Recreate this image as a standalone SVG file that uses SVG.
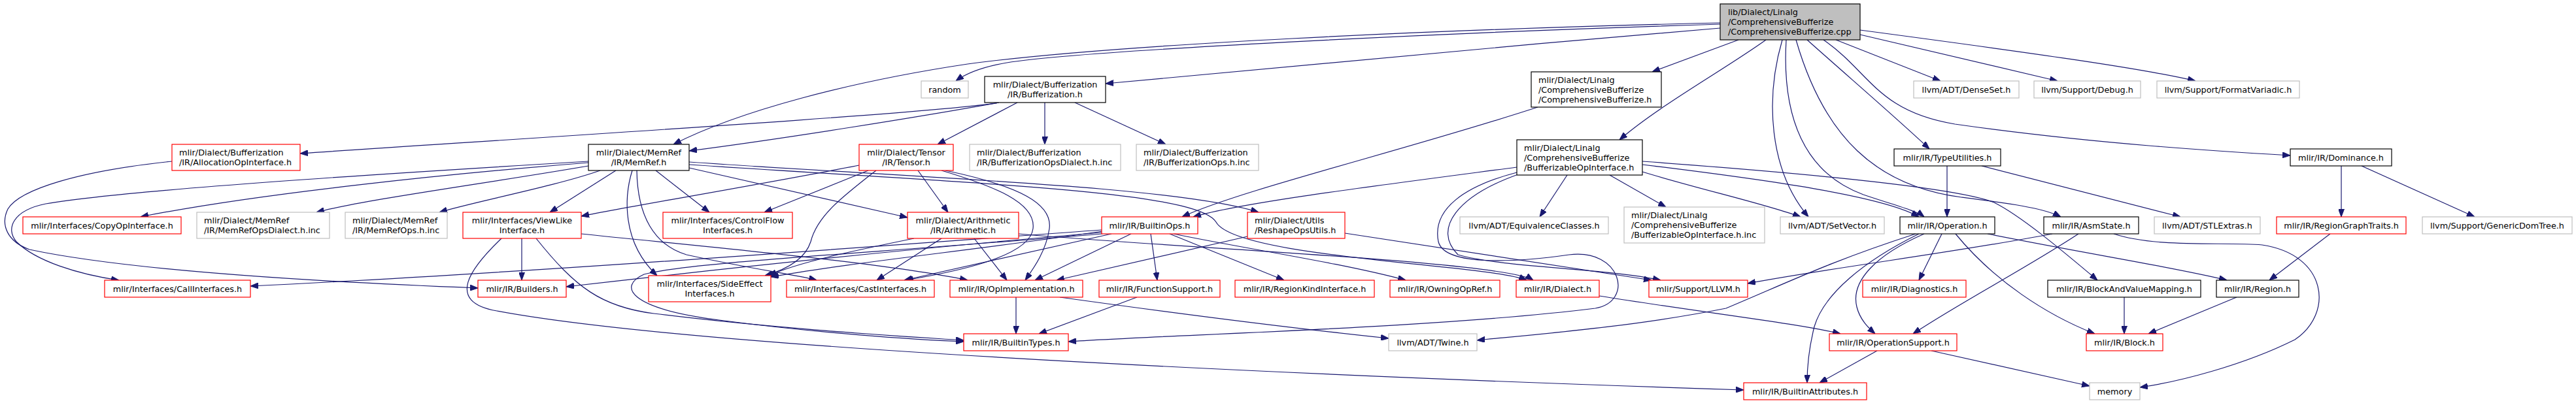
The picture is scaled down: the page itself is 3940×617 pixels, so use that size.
<svg xmlns="http://www.w3.org/2000/svg" width="3940" height="617" viewBox="0 0 3940 617">
<style>
.blk{fill:#fff;stroke:#000;stroke-width:1.2}
.gry{fill:#fff;stroke:#bfbfbf;stroke-width:1.2}
.red{fill:#fff;stroke:#ff0000;stroke-width:1.2}
.top{fill:#bfbfbf;stroke:#000;stroke-width:1.2}
text{font-family:"DejaVu Sans","Liberation Sans",sans-serif;font-size:12.8px;fill:#000}
.c{text-anchor:middle}
#edges path{fill:none;stroke:#191970;stroke-width:1.2;marker-end:url(#arr)}
</style>
<defs>
<marker id="arr" viewBox="0 0 12 9" refX="12" refY="4.5" markerWidth="12" markerHeight="9" markerUnits="userSpaceOnUse" orient="auto">
<path d="M0,0 L12,4.5 L0,9 z" fill="#191970" stroke="#191970" stroke-width="1"/>
</marker>
</defs>
<rect x="0" y="0" width="3940" height="617" fill="#fff"/>
<g id="edges">
<path d="M2631,37 C2200,50 1650,78 1540,96 C1500,103 1478,112 1462,124"/>
<path d="M2631,35 C2200,45 1700,68 1480,98 C1300,125 1130,170 1030,221"/>
<path d="M2631,43 C2300,70 1900,110 1691,128"/>
<path d="M2659,61 L2527,110"/>
<path d="M2701,61 C2640,105 2540,160 2477,214"/>
<path d="M2726,61 C2700,150 2705,260 2766,332"/>
<path d="M2732,61 C2725,180 2760,265 2850,298 C2900,315 2930,322 2943,332"/>
<path d="M2764,61 C2830,120 2900,180 2951,228"/>
<path d="M2747,61 C2790,210 2870,285 3000,302 C3070,311 3125,318 3152,332"/>
<path d="M2789,61 C2860,110 2870,170 2990,190 C3200,220 3400,232 3503,238"/>
<path d="M2808,61 L2968,124"/>
<path d="M2845,53 L3147,124"/>
<path d="M2845,46 C3100,80 3280,105 3358,124"/>
<path d="M1528,157 C1450,172 800,212 459,235"/>
<path d="M1528,157 C1400,180 1200,212 1054,231"/>
<path d="M1556,157 L1434,221"/>
<path d="M1598,157 L1598,221"/>
<path d="M1644,157 L1783,221"/>
<path d="M2352,164 C2150,230 1900,290 1808,332"/>
<path d="M263,247 C120,262 30,290 12,320 C0,345 12,370 45,382 C200,415 500,432 731,441"/>
<path d="M900,247 C600,265 200,290 70,312 C20,322 8,350 25,370 C55,400 120,420 182,429"/>
<path d="M900,249 C700,265 400,295 215,332"/>
<path d="M900,254 C750,280 560,305 484,325"/>
<path d="M918,261 C850,285 720,310 672,325"/>
<path d="M942,261 L841,325"/>
<path d="M967,261 C955,300 950,370 1005,422"/>
<path d="M974,261 C975,330 1000,375 1050,390 C1150,412 1220,421 1249,429"/>
<path d="M1003,261 L1085,325"/>
<path d="M1054,257 C1200,290 1330,320 1388,333"/>
<path d="M1054,248 C1400,272 1800,285 1925,325"/>
<path d="M1054,252 C1500,282 1830,292 1860,340 C1890,395 2280,405 2335,429"/>
<path d="M1314,253 C1150,285 950,318 889,331"/>
<path d="M1328,261 L1169,325"/>
<path d="M1340,261 C1290,300 1250,330 1240,370 C1232,395 1205,412 1170,422"/>
<path d="M1404,261 L1450,325"/>
<path d="M1440,261 C1520,285 1585,310 1580,350 C1575,395 1450,418 1385,429"/>
<path d="M1446,261 C1560,285 1610,312 1605,350 C1600,385 1580,412 1568,429"/>
<path d="M1398,365 C1300,385 1220,402 1176,422"/>
<path d="M1440,365 L1341,429"/>
<path d="M1490,365 L1540,429"/>
<path d="M1558,358 C1800,380 2300,400 2345,429"/>
<path d="M1730,358 L1583,429"/>
<path d="M1760,358 L1770,429"/>
<path d="M1789,358 L1964,429"/>
<path d="M1795,358 C1900,380 2050,402 2150,429"/>
<path d="M1685,356 C1400,380 1100,412 866,439"/>
<path d="M1685,352 C1300,380 800,418 383,438"/>
<path d="M1700,358 L1383,429"/>
<path d="M1686,354 C1500,382 1300,402 1179,424"/>
<path d="M1686,358 C1300,390 1050,402 985,420 C945,438 960,472 1100,490 C1250,510 1400,520 1474,523"/>
<path d="M1908,362 L1616,429"/>
<path d="M2057,357 L2526,429"/>
<path d="M798,365 L798,429"/>
<path d="M820,365 C880,440 920,470 1000,480 C1200,505 1400,516 1474,521"/>
<path d="M767,365 C720,410 680,462 760,476 C1100,540 2200,582 2667,597"/>
<path d="M889,358 C1100,380 1350,402 1480,429"/>
<path d="M2397,268 L2355,332"/>
<path d="M2462,268 L2548,317"/>
<path d="M2320,256 C2100,285 1900,310 1825,332"/>
<path d="M2320,264 C2240,285 2190,320 2200,370 C2210,410 2330,400 2400,390 C2480,380 2500,462 2440,472 C2200,502 1800,512 1634,523"/>
<path d="M2322,267 C2230,300 2190,350 2230,390 C2300,410 2450,410 2540,429"/>
<path d="M2512,263 C2600,290 2700,312 2754,332"/>
<path d="M2512,252 C2700,275 2880,300 2935,332"/>
<path d="M2512,247 C2800,268 3000,290 3050,310 C3090,330 3150,380 3208,429"/>
<path d="M3139,358 C3000,385 2800,410 2673,434"/>
<path d="M3179,358 C3100,410 3000,462 2926,511"/>
<path d="M3233,358 C3300,380 3400,370 3460,375 C3560,390 3570,480 3510,520 C3430,560 3330,585 3273,593"/>
<path d="M2978,254 L2978,332"/>
<path d="M3031,254 C3150,285 3250,310 3335,332"/>
<path d="M3581,254 L3581,332"/>
<path d="M3612,254 L3785,332"/>
<path d="M2930,358 C2800,400 2740,430 2640,472 C2500,500 2350,512 2259,521"/>
<path d="M2935,358 C2850,400 2790,450 2775,500 C2765,540 2764,570 2764,586"/>
<path d="M2943,358 C2870,390 2830,430 2840,470 C2845,490 2858,502 2868,511"/>
<path d="M2970,358 L2935,429"/>
<path d="M2991,358 C3050,430 3130,482 3204,511"/>
<path d="M3040,358 C3200,390 3330,410 3406,429"/>
<path d="M2871,537 L2783,586"/>
<path d="M2954,537 L3196,591"/>
<path d="M2446,453 C2600,478 2750,495 2815,511"/>
<path d="M1554,455 L1554,511"/>
<path d="M1621,455 C1800,480 2000,505 2124,518"/>
<path d="M1739,455 L1589,511"/>
<path d="M3249,455 L3249,511"/>
<path d="M3421,455 L3286,511"/>
<path d="M3564,358 L3471,429"/>
</g>
<g id="n_top"><rect class="top" x="2631" y="6" width="214" height="55"/><text x="2643" y="23.1">lib/Dialect/Linalg</text><text x="2643" y="38.1">/ComprehensiveBufferize</text><text x="2643" y="53.1">/ComprehensiveBufferize.cpp</text></g>
<g id="n_random"><rect class="gry" x="1409" y="124" width="72" height="26"/><text class="c" x="1445" y="141.6">random</text></g>
<g id="n_buf"><rect class="blk" x="1506" y="117" width="185" height="40"/><text class="c" x="1598.5" y="134.1">mlir/Dialect/Bufferization</text><text class="c" x="1598.5" y="149.1">/IR/Bufferization.h</text></g>
<g id="n_cbh"><rect class="blk" x="2342" y="110" width="199" height="54"/><text x="2353" y="126.6">mlir/Dialect/Linalg</text><text x="2353" y="141.6">/ComprehensiveBufferize</text><text x="2353" y="156.6">/ComprehensiveBufferize.h</text></g>
<g id="n_denseset"><rect class="gry" x="2927" y="124" width="161" height="26"/><text class="c" x="3007.5" y="141.6">llvm/ADT/DenseSet.h</text></g>
<g id="n_debug"><rect class="gry" x="3111" y="124" width="163" height="26"/><text class="c" x="3192.5" y="141.6">llvm/Support/Debug.h</text></g>
<g id="n_fmtvar"><rect class="gry" x="3299" y="124" width="218" height="26"/><text class="c" x="3408" y="141.6">llvm/Support/FormatVariadic.h</text></g>
<g id="n_alloc"><rect class="red" x="263" y="221" width="196" height="40"/><text x="274" y="238.1">mlir/Dialect/Bufferization</text><text x="274" y="253.1">/IR/AllocationOpInterface.h</text></g>
<g id="n_memref"><rect class="blk" x="900" y="221" width="154" height="40"/><text class="c" x="977" y="238.1">mlir/Dialect/MemRef</text><text class="c" x="977" y="253.1">/IR/MemRef.h</text></g>
<g id="n_tensor"><rect class="red" x="1314" y="221" width="144" height="40"/><text class="c" x="1386" y="238.1">mlir/Dialect/Tensor</text><text class="c" x="1386" y="253.1">/IR/Tensor.h</text></g>
<g id="n_bufopsdialect"><rect class="gry" x="1483" y="221" width="231" height="40"/><text x="1494" y="238.1">mlir/Dialect/Bufferization</text><text x="1494" y="253.1">/IR/BufferizationOpsDialect.h.inc</text></g>
<g id="n_bufops"><rect class="gry" x="1738" y="221" width="187" height="40"/><text x="1749" y="238.1">mlir/Dialect/Bufferization</text><text x="1749" y="253.1">/IR/BufferizationOps.h.inc</text></g>
<g id="n_boi"><rect class="blk" x="2320" y="214" width="192" height="54"/><text x="2331" y="230.6">mlir/Dialect/Linalg</text><text x="2331" y="245.6">/ComprehensiveBufferize</text><text x="2331" y="260.6">/BufferizableOpInterface.h</text></g>
<g id="n_typeutil"><rect class="blk" x="2897" y="228" width="163" height="26"/><text class="c" x="2978.5" y="245.6">mlir/IR/TypeUtilities.h</text></g>
<g id="n_dominance"><rect class="blk" x="3503" y="228" width="155" height="26"/><text class="c" x="3580.5" y="245.6">mlir/IR/Dominance.h</text></g>
<g id="n_copyop"><rect class="red" x="35" y="332" width="242" height="26"/><text class="c" x="156" y="349.6">mlir/Interfaces/CopyOpInterface.h</text></g>
<g id="n_memrefopsdialect"><rect class="gry" x="301" y="325" width="203" height="40"/><text x="312" y="342.1">mlir/Dialect/MemRef</text><text x="312" y="357.1">/IR/MemRefOpsDialect.h.inc</text></g>
<g id="n_memrefops"><rect class="gry" x="528" y="325" width="156" height="40"/><text x="539" y="342.1">mlir/Dialect/MemRef</text><text x="539" y="357.1">/IR/MemRefOps.h.inc</text></g>
<g id="n_viewlike"><rect class="red" x="708" y="325" width="181" height="40"/><text class="c" x="798.5" y="342.1">mlir/Interfaces/ViewLike</text><text class="c" x="798.5" y="357.1">Interface.h</text></g>
<g id="n_controlflow"><rect class="red" x="1014" y="325" width="198" height="40"/><text class="c" x="1113" y="342.1">mlir/Interfaces/ControlFlow</text><text class="c" x="1113" y="357.1">Interfaces.h</text></g>
<g id="n_arith"><rect class="red" x="1388" y="325" width="170" height="40"/><text class="c" x="1473" y="342.1">mlir/Dialect/Arithmetic</text><text class="c" x="1473" y="357.1">/IR/Arithmetic.h</text></g>
<g id="n_builtinops"><rect class="red" x="1685" y="332" width="147" height="26"/><text class="c" x="1758.5" y="349.6">mlir/IR/BuiltinOps.h</text></g>
<g id="n_reshape"><rect class="red" x="1908" y="325" width="149" height="40"/><text x="1919" y="342.1">mlir/Dialect/Utils</text><text x="1919" y="357.1">/ReshapeOpsUtils.h</text></g>
<g id="n_equiv"><rect class="gry" x="2233" y="332" width="227" height="26"/><text class="c" x="2346.5" y="349.6">llvm/ADT/EquivalenceClasses.h</text></g>
<g id="n_boiinc"><rect class="gry" x="2484" y="317" width="215" height="55"/><text x="2495" y="334.1">mlir/Dialect/Linalg</text><text x="2495" y="349.1">/ComprehensiveBufferize</text><text x="2495" y="364.1">/BufferizableOpInterface.h.inc</text></g>
<g id="n_setvector"><rect class="gry" x="2723" y="332" width="159" height="26"/><text class="c" x="2802.5" y="349.6">llvm/ADT/SetVector.h</text></g>
<g id="n_operation"><rect class="blk" x="2906" y="332" width="145" height="26"/><text class="c" x="2978.5" y="349.6">mlir/IR/Operation.h</text></g>
<g id="n_asmstate"><rect class="blk" x="3126" y="332" width="145" height="26"/><text class="c" x="3198.5" y="349.6">mlir/IR/AsmState.h</text></g>
<g id="n_stlextras"><rect class="gry" x="3295" y="332" width="162" height="26"/><text class="c" x="3376" y="349.6">llvm/ADT/STLExtras.h</text></g>
<g id="n_rgt"><rect class="red" x="3482" y="332" width="198" height="26"/><text class="c" x="3581" y="349.6">mlir/IR/RegionGraphTraits.h</text></g>
<g id="n_gdt"><rect class="gry" x="3705" y="332" width="229" height="26"/><text class="c" x="3819.5" y="349.6">llvm/Support/GenericDomTree.h</text></g>
<g id="n_callif"><rect class="red" x="160" y="429" width="223" height="26"/><text class="c" x="271.5" y="446.6">mlir/Interfaces/CallInterfaces.h</text></g>
<g id="n_builders"><rect class="red" x="731" y="429" width="135" height="26"/><text class="c" x="798.5" y="446.6">mlir/IR/Builders.h</text></g>
<g id="n_sideeffect"><rect class="red" x="992" y="422" width="187" height="40"/><text class="c" x="1085.5" y="439.1">mlir/Interfaces/SideEffect</text><text class="c" x="1085.5" y="454.1">Interfaces.h</text></g>
<g id="n_castif"><rect class="red" x="1203" y="429" width="226" height="26"/><text class="c" x="1316" y="446.6">mlir/Interfaces/CastInterfaces.h</text></g>
<g id="n_opimpl"><rect class="red" x="1453" y="429" width="203" height="26"/><text class="c" x="1554.5" y="446.6">mlir/IR/OpImplementation.h</text></g>
<g id="n_funcsupport"><rect class="red" x="1681" y="429" width="185" height="26"/><text class="c" x="1773.5" y="446.6">mlir/IR/FunctionSupport.h</text></g>
<g id="n_regionkind"><rect class="red" x="1889" y="429" width="213" height="26"/><text class="c" x="1995.5" y="446.6">mlir/IR/RegionKindInterface.h</text></g>
<g id="n_owningopref"><rect class="red" x="2126" y="429" width="168" height="26"/><text class="c" x="2210" y="446.6">mlir/IR/OwningOpRef.h</text></g>
<g id="n_dialect"><rect class="red" x="2319" y="429" width="127" height="26"/><text class="c" x="2382.5" y="446.6">mlir/IR/Dialect.h</text></g>
<g id="n_llvm"><rect class="red" x="2522" y="429" width="151" height="26"/><text class="c" x="2597.5" y="446.6">mlir/Support/LLVM.h</text></g>
<g id="n_diagnostics"><rect class="red" x="2849" y="429" width="158" height="26"/><text class="c" x="2928" y="446.6">mlir/IR/Diagnostics.h</text></g>
<g id="n_bavm"><rect class="blk" x="3132" y="429" width="234" height="26"/><text class="c" x="3249" y="446.6">mlir/IR/BlockAndValueMapping.h</text></g>
<g id="n_region"><rect class="blk" x="3390" y="429" width="126" height="26"/><text class="c" x="3453" y="446.6">mlir/IR/Region.h</text></g>
<g id="n_builtintypes"><rect class="red" x="1474" y="511" width="160" height="26"/><text class="c" x="1554" y="528.6">mlir/IR/BuiltinTypes.h</text></g>
<g id="n_twine"><rect class="gry" x="2124" y="511" width="135" height="26"/><text class="c" x="2191.5" y="528.6">llvm/ADT/Twine.h</text></g>
<g id="n_opsupport"><rect class="red" x="2798" y="511" width="195" height="26"/><text class="c" x="2895.5" y="528.6">mlir/IR/OperationSupport.h</text></g>
<g id="n_block"><rect class="red" x="3191" y="511" width="117" height="26"/><text class="c" x="3249.5" y="528.6">mlir/IR/Block.h</text></g>
<g id="n_builtinattrs"><rect class="red" x="2667" y="586" width="188" height="26"/><text class="c" x="2761" y="603.6">mlir/IR/BuiltinAttributes.h</text></g>
<g id="n_memory"><rect class="gry" x="3196" y="586" width="77" height="26"/><text class="c" x="3234.5" y="603.6">memory</text></g>
</svg>
